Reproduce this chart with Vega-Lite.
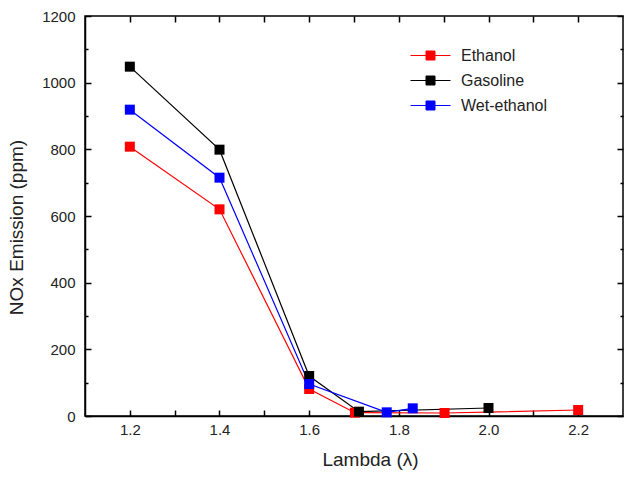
{
  "$schema": "https://vega.github.io/schema/vega-lite/v6.json",
  "autosize": {"type": "none"},
  "width": 538,
  "height": 400,
  "padding": {"left": 85, "top": 16, "right": 2, "bottom": 63},
  "background": "white",
  "config": {
    "font": "Liberation Sans",
    "view": {"stroke": "black", "strokeWidth": 1.5},
    "axis": {"domainColor": "black", "domainWidth": 1.5, "labelColor": "#222", "titleColor": "#222", "ticks": false, "grid": true, "gridColor": "black", "gridWidth": 1.5, "gridOpacity": 1}
  },
  "data": {
    "values": [
      {"lambda": 1.2, "nox": 808, "fuel": "Ethanol"},
      {"lambda": 1.4, "nox": 620, "fuel": "Ethanol"},
      {"lambda": 1.6, "nox": 81, "fuel": "Ethanol"},
      {"lambda": 1.702, "nox": 10, "fuel": "Ethanol"},
      {"lambda": 1.902, "nox": 9, "fuel": "Ethanol"},
      {"lambda": 2.2, "nox": 18, "fuel": "Ethanol"},
      {"lambda": 1.2, "nox": 1048, "fuel": "Gasoline"},
      {"lambda": 1.4, "nox": 799, "fuel": "Gasoline"},
      {"lambda": 1.6, "nox": 120, "fuel": "Gasoline"},
      {"lambda": 1.711, "nox": 13, "fuel": "Gasoline"},
      {"lambda": 2.0, "nox": 24, "fuel": "Gasoline"},
      {"lambda": 1.2, "nox": 919, "fuel": "Wet-ethanol"},
      {"lambda": 1.4, "nox": 715, "fuel": "Wet-ethanol"},
      {"lambda": 1.6, "nox": 96, "fuel": "Wet-ethanol"},
      {"lambda": 1.773, "nox": 11, "fuel": "Wet-ethanol"},
      {"lambda": 1.831, "nox": 23, "fuel": "Wet-ethanol"}
    ]
  },
  "mark": {"type": "line", "strokeWidth": 1.2, "point": {"shape": "square", "size": 100, "filled": true, "opacity": 1}},
  "encoding": {
    "x": {
      "field": "lambda", "type": "quantitative",
      "scale": {"domain": [1.1, 2.3], "nice": false, "zero": false},
      "axis": {
        "orient": "bottom",
        "title": "Lambda (λ)",
        "titleFontSize": 19, "titleFontWeight": "normal", "titlePadding": 13, "titleX": 285,
        "labelFontSize": 15, "labelPadding": 10,
        "values": [1.2, 1.3, 1.4, 1.5, 1.6, 1.7, 1.8, 1.9, 2.0, 2.1, 2.2],
        "labelExpr": "round(datum.value*10) % 2 == 0 ? format(datum.value, '.1f') : ''",
        "gridColor": "black",
        "gridDash": [6, 388, 6, 2000],
        "ticks": true,
        "tickColor": "black",
        "tickSize": -4
      }
    },
    "y": {
      "field": "nox", "type": "quantitative",
      "scale": {"domain": [0, 1200], "nice": false},
      "axis": {
        "orient": "left",
        "title": "NOx Emission (ppm)",
        "titleFontSize": 19, "titleFontWeight": "normal", "titlePadding": 15, "titleY": 211,
        "labelFontSize": 15, "labelPadding": 10,
        "values": [0, 100, 200, 300, 400, 500, 600, 700, 800, 900, 1000, 1100, 1200],
        "labelExpr": "datum.value % 200 == 0 ? format(datum.value, 'd') : ''",
        "gridDash": {"condition": {"test": "datum.value % 200 == 0", "value": [6, 526, 6, 2000]}, "value": [3, 532, 3, 2000]}
      }
    },
    "color": {
      "field": "fuel", "type": "nominal",
      "scale": {"domain": ["Ethanol", "Gasoline", "Wet-ethanol"], "range": ["#ff0000", "#000000", "#0000ff"]},
      "legend": {
        "title": null,
        "orient": "none",
        "legendX": 335,
        "legendY": 29,
        "labelFontSize": 16,
        "labelColor": "#222",
        "rowPadding": 6,
        "symbolType": "M-2,0H-0.45M0.45,0H2M-0.45,-0.45H0.45V0.45H-0.45Z",
        "symbolSize": 400,
        "symbolStrokeWidth": 1,
        "labelOffset": 20,
        "encode": {"symbols": {"update": {"fill": {"scale": "color", "field": "value"}, "stroke": {"scale": "color", "field": "value"}, "opacity": {"value": 1}}}}
      }
    }
  }
}
